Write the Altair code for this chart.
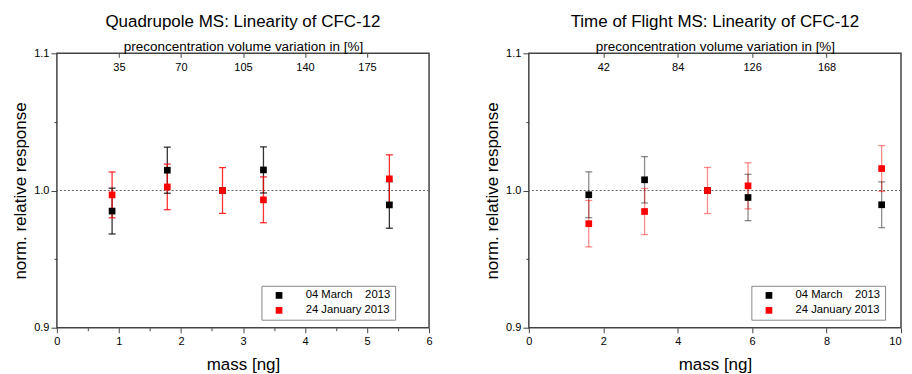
import altair as alt
import pandas as pd

FONT = "Liberation Sans"

series_names = ["04 March\u00a0\u00a0\u00a0\u00a02013", "24 January 2013"]
series_colors = ["#000000", "#ff0000"]

# ---- Quadrupole MS panel ----
q_title = "Quadrupole MS: Linearity of CFC-12"
q_mass = [0.89, 1.78, 2.67, 3.33, 5.36]
q_march = [0.985, 1.0148, 1.0, 1.015, 0.9895]
q_march_err = [0.0167, 0.0168, 0.0, 0.0168, 0.017]
q_jan = [0.9968, 1.0026, 1.0, 0.9932, 1.0085]
q_jan_err = [0.0167, 0.0166, 0.0167, 0.0167, 0.0175]
q_x_domain = [0, 6]
q_x_ticks = [0, 0.5, 1, 1.5, 2, 2.5, 3, 3.5, 4, 4.5, 5, 5.5, 6]
q_top_domain = [0, 210]
q_top_ticks = [35, 70, 105, 140, 175]

# ---- Time of Flight MS panel ----
t_title = "Time of Flight MS: Linearity of CFC-12"
t_mass = [1.61, 3.11, 4.80, 5.89, 9.48]
t_march = [0.9969, 1.0078, 1.0, 0.9949, 0.9896]
t_march_err = [0.0167, 0.0169, 0.0, 0.0169, 0.0167]
t_jan = [0.9758, 0.9847, 1.0, 1.0034, 1.016]
t_jan_err = [0.0169, 0.0168, 0.0168, 0.0168, 0.0167]
t_x_domain = [0, 10]
t_x_ticks = [0, 2, 4, 6, 8, 10]
t_top_domain = [0, 210]
t_top_ticks = [42, 84, 126, 168]

y_domain = [0.9, 1.1]
y_ticks = [0.9, 0.95, 1.0, 1.05, 1.1]
ref_level = [1.0]

PW, PH = 373, 275


def panel(title, mass, march, march_err, jan, jan_err, x_domain, x_ticks,
          top_domain, top_ticks, legend_x, err_opacity):
    n = len(mass)
    df = pd.DataFrame({
        "mass": list(mass) + list(mass),
        "value": list(march) + list(jan),
        "err": list(march_err) + list(jan_err),
        "series": [series_names[0]] * n + [series_names[1]] * n,
    })
    df["lo"] = df["value"] - df["err"]
    df["hi"] = df["value"] + df["err"]

    xmax = x_domain[1]
    xscale = alt.Scale(domain=x_domain, nice=False, zero=False)
    yscale = alt.Scale(domain=y_domain, nice=False, zero=False)
    x_axis = alt.Axis(
        values=x_ticks, title="mass [ng]", titleFontSize=17, titlePadding=10,
        labelExpr="datum.value % 1 != 0 ? '' : format(datum.value, 'd')",
        tickSize={"condition": {"test": "datum.value % 1 != 0", "value": 3}, "value": 5},
        labelAlign={"condition": {"test": f"datum.value >= {xmax} && {xmax} >= 10", "value": "right"},
                    "value": "center"},
        labelPadding=3, labelFlush=False,
    )
    y_axis = alt.Axis(
        values=y_ticks, title="norm. relative response", titleFontSize=17,
        titlePadding=4,
        labelExpr="abs((datum.value*20) % 2 - 1) < 0.01 ? '' : format(datum.value, '.1f')",
        tickSize={"condition": {"test": "abs((datum.value*20) % 2 - 1) < 0.01", "value": 3}, "value": 6},
        labelPadding=2, labelFlush=False,
    )
    X = alt.X("mass:Q", scale=xscale, axis=x_axis)
    color = alt.Color(
        "series:N",
        scale=alt.Scale(domain=series_names, range=series_colors),
        legend=alt.Legend(
            title=None, orient="none", legendX=legend_x, legendY=233,
            symbolType="square", symbolSize=45, symbolStrokeWidth=0, symbolOpacity=1,
            labelFont=FONT, labelFontSize=11.3, labelColor="black",
            strokeColor="#888888", fillColor="white", padding=4, rowPadding=3,
            symbolOffset=8, labelOffset=21,
        ),
    )

    base = alt.Chart(df)
    ref = alt.Chart(pd.DataFrame({"ref": ref_level})).mark_rule(
        color="#666666", strokeDash=[2, 2], strokeWidth=1
    ).encode(y=alt.Y("ref:Q", scale=yscale, axis=y_axis))

    errs = base.transform_filter("datum.err > 0")
    bars = errs.mark_rule(strokeWidth=1.3, opacity=err_opacity).encode(
        x=X, y=alt.Y("lo:Q", scale=yscale, axis=y_axis), y2="hi:Q", color=color)
    cap_lo = errs.mark_tick(orient="horizontal", size=7, thickness=1.3, opacity=err_opacity).encode(
        x=X, y=alt.Y("lo:Q", scale=yscale, axis=y_axis), color=color)
    cap_hi = errs.mark_tick(orient="horizontal", size=7, thickness=1.3, opacity=err_opacity).encode(
        x=X, y=alt.Y("hi:Q", scale=yscale, axis=y_axis), color=color)
    pts = base.mark_square(size=45, opacity=1).encode(
        x=X, y=alt.Y("value:Q", scale=yscale, axis=y_axis), color=color)

    inner = alt.layer(ref, bars, cap_lo, cap_hi, pts)

    top = alt.Chart(pd.DataFrame({"pct": top_domain})).mark_point(opacity=0).encode(
        x=alt.X("pct:Q", scale=alt.Scale(domain=top_domain, nice=False, zero=False),
                axis=alt.Axis(orient="bottom", offset=-PH, values=top_ticks, tickSize=4,
                              labelPadding=4, labelFlush=False,
                              title="preconcentration volume variation in [%]",
                              titleFontSize=13.5, titleY=-3, titleBaseline="alphabetic"))
    )

    return alt.layer(inner, top).resolve_scale(x="independent").properties(
        width=PW, height=PH,
        title=alt.TitleParams(text=title, fontSize=17, font=FONT, fontWeight="normal",
                              anchor="middle", frame="group", offset=8, color="black"),
    )


left = panel(q_title, q_mass, q_march, q_march_err, q_jan, q_jan_err, q_x_domain, q_x_ticks,
             q_top_domain, q_top_ticks, 205, 0.8)
right = panel(t_title, t_mass, t_march, t_march_err, t_jan, t_jan_err, t_x_domain, t_x_ticks,
              t_top_domain, t_top_ticks, 223, 0.45)

chart = alt.hconcat(left, right, spacing=49).resolve_scale(
    color="independent"
).resolve_legend(
    color="independent"
).properties(
    padding={"left": 2, "top": 4, "right": -1, "bottom": 0}
).configure_view(
    stroke="#444444", strokeWidth=1.5
).configure_axis(
    labelFont=FONT, labelFontSize=11, labelColor="black",
    titleFont=FONT, titleFontWeight="normal", titleColor="black",
    grid=False, domain=False, tickColor="#444444", tickWidth=1,
)

chart.save("out.html", embed_options={"renderer": "svg", "actions": False})
